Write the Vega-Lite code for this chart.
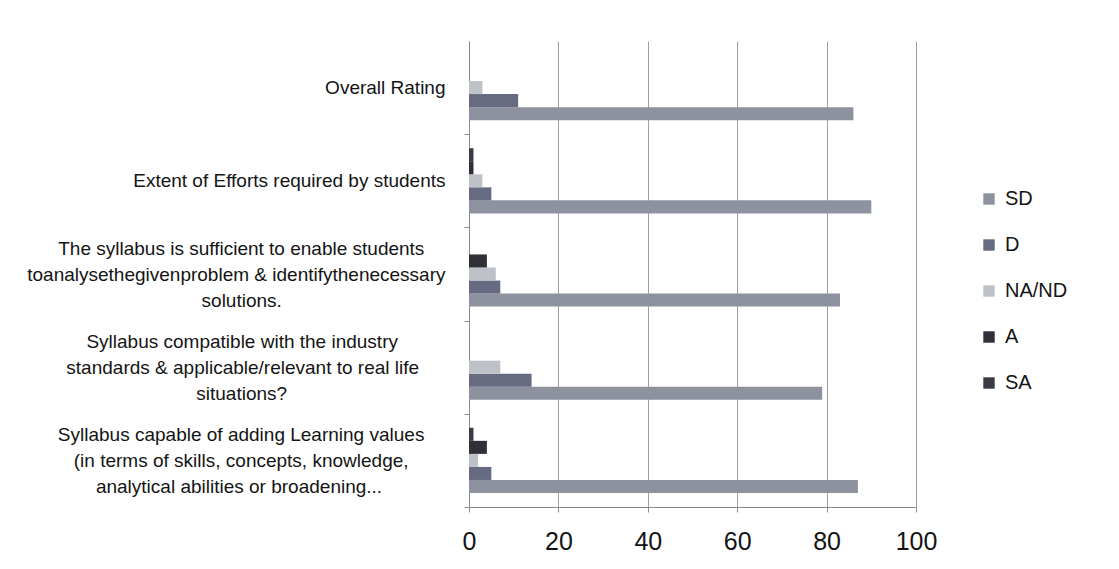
{
  "$schema": "https://vega.github.io/schema/vega-lite/v6.json",
  "width": 447,
  "height": 466,
  "autosize": {"type": "none"},
  "padding": {"left": 469, "top": 41, "right": 203, "bottom": 62},
  "background": "white",
  "config": {"view": {"stroke": null}, "font": "Liberation Sans"},
  "data": {
    "values": [
      {"question": "Overall Rating", "rating": "SD", "percent": 86},
      {"question": "Overall Rating", "rating": "D", "percent": 11},
      {"question": "Overall Rating", "rating": "NA/ND", "percent": 3},
      {"question": "Overall Rating", "rating": "A", "percent": 0},
      {"question": "Overall Rating", "rating": "SA", "percent": 0},
      {"question": "Extent of Efforts required by students", "rating": "SD", "percent": 90},
      {"question": "Extent of Efforts required by students", "rating": "D", "percent": 5},
      {"question": "Extent of Efforts required by students", "rating": "NA/ND", "percent": 3},
      {"question": "Extent of Efforts required by students", "rating": "A", "percent": 1},
      {"question": "Extent of Efforts required by students", "rating": "SA", "percent": 1},
      {"question": "The syllabus is sufficient to enable students|toanalysethegivenproblem & identifythenecessary|solutions.", "rating": "SD", "percent": 83},
      {"question": "The syllabus is sufficient to enable students|toanalysethegivenproblem & identifythenecessary|solutions.", "rating": "D", "percent": 7},
      {"question": "The syllabus is sufficient to enable students|toanalysethegivenproblem & identifythenecessary|solutions.", "rating": "NA/ND", "percent": 6},
      {"question": "The syllabus is sufficient to enable students|toanalysethegivenproblem & identifythenecessary|solutions.", "rating": "A", "percent": 4},
      {"question": "The syllabus is sufficient to enable students|toanalysethegivenproblem & identifythenecessary|solutions.", "rating": "SA", "percent": 0},
      {"question": "Syllabus compatible with the industry|standards & applicable/relevant to real life|situations?", "rating": "SD", "percent": 79},
      {"question": "Syllabus compatible with the industry|standards & applicable/relevant to real life|situations?", "rating": "D", "percent": 14},
      {"question": "Syllabus compatible with the industry|standards & applicable/relevant to real life|situations?", "rating": "NA/ND", "percent": 7},
      {"question": "Syllabus compatible with the industry|standards & applicable/relevant to real life|situations?", "rating": "A", "percent": 0},
      {"question": "Syllabus compatible with the industry|standards & applicable/relevant to real life|situations?", "rating": "SA", "percent": 0},
      {"question": "Syllabus capable of adding Learning values|(in terms of skills, concepts, knowledge,|analytical abilities or broadening...", "rating": "SD", "percent": 87},
      {"question": "Syllabus capable of adding Learning values|(in terms of skills, concepts, knowledge,|analytical abilities or broadening...", "rating": "D", "percent": 5},
      {"question": "Syllabus capable of adding Learning values|(in terms of skills, concepts, knowledge,|analytical abilities or broadening...", "rating": "NA/ND", "percent": 2},
      {"question": "Syllabus capable of adding Learning values|(in terms of skills, concepts, knowledge,|analytical abilities or broadening...", "rating": "A", "percent": 4},
      {"question": "Syllabus capable of adding Learning values|(in terms of skills, concepts, knowledge,|analytical abilities or broadening...", "rating": "SA", "percent": 1}
    ]
  },
  "mark": {"type": "bar"},
  "encoding": {
    "y": {
      "field": "question",
      "type": "nominal",
      "sort": null,
      "scale": {"paddingInner": 0.3, "paddingOuter": 0.15},
      "axis": {
        "title": null,
        "bandPosition": 1,
        "tickOffset": 14,
        "labelOffset": -40,
        "domainColor": "#8a8a8a",
        "tickColor": "#8a8a8a",
        "tickSize": 5,
        "labelExpr": "indexof(datum.value, '|') < 0 ? ['', datum.value] : [split(datum.value, '|')[0] + pad('', {'The syllabu': 4, 'Syllabus co': 9, 'Syllabus ca': 4}[slice(datum.value, 0, 11)], '\u00a0') + '\u200b', split(datum.value, '|')[1] + pad('', {'The syllabu': 0, 'Syllabus co': 5, 'Syllabus ca': 7}[slice(datum.value, 0, 11)], '\u00a0') + '\u200b', split(datum.value, '|')[2] + pad('', {'The syllabu': 31, 'Syllabus co': 30, 'Syllabus ca': 12}[slice(datum.value, 0, 11)], '\u00a0') + '\u200b']",
        "labelLimit": 0,
        "labelFontSize": 19,
        "labelLineHeight": 26,
        "labelColor": "#141414",
        "labelBaseline": "middle",
        "labelPadding": 19
      }
    },
    "yOffset": {
      "field": "rating",
      "type": "nominal",
      "sort": ["SA", "A", "NA/ND", "D", "SD"]
    },
    "x": {
      "field": "percent",
      "type": "quantitative",
      "scale": {"domain": [0, 100], "nice": false},
      "axis": {
        "title": null,
        "values": [0, 20, 40, 60, 80, 100],
        "grid": true,
        "gridColor": "#a0a0a0",
        "domainColor": "#8a8a8a",
        "tickColor": "#8a8a8a",
        "tickSize": 5,
        "labelFontSize": 25,
        "labelPadding": 17,
        "labelFlush": false,
        "labelColor": "#141414"
      }
    },
    "color": {
      "field": "rating",
      "type": "nominal",
      "scale": {
        "domain": ["SD", "D", "NA/ND", "A", "SA"],
        "range": ["#8e929f", "#666b82", "#bfc1c8", "#2f3038", "#3a3b45"]
      },
      "legend": {
        "title": null,
        "orient": "none",
        "legendX": 510,
        "legendY": 148,
        "symbolType": "square",
        "symbolSize": 130,
        "symbolStrokeWidth": 0,
        "labelFontSize": 20,
        "labelOffset": 6,
        "rowPadding": 26,
        "labelColor": "#141414"
      }
    }
  }
}
